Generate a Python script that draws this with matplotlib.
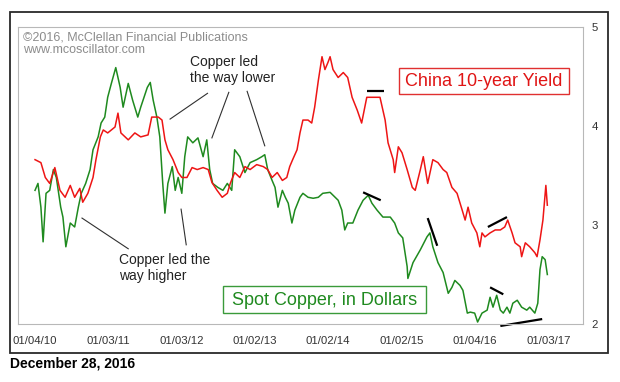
import numpy as np
import pandas as pd
import matplotlib
matplotlib.use('Agg')
import matplotlib.pyplot as plt
from matplotlib.patches import Rectangle

plt.rcParams['font.family'] = ['Liberation Sans', 'DejaVu Sans']

# China 10-year yield (decimal year)
yield_t = [2010.01, 2010.09, 2010.15, 2010.21, 2010.28, 2010.35, 2010.42, 2010.49, 2010.55, 2010.62,
           2010.66, 2010.73, 2010.80, 2010.84, 2010.90, 2010.94, 2011.00, 2011.10, 2011.14, 2011.18,
           2011.28, 2011.37, 2011.45, 2011.55, 2011.60, 2011.69, 2011.74, 2011.78, 2011.82, 2011.89,
           2011.96, 2012.01, 2012.08, 2012.15, 2012.22, 2012.30, 2012.37, 2012.42, 2012.49, 2012.56,
           2012.63, 2012.67, 2012.73, 2012.80, 2012.87, 2012.94, 2013.03, 2013.12, 2013.18, 2013.24,
           2013.31, 2013.38, 2013.44, 2013.48, 2013.52, 2013.58, 2013.62, 2013.66, 2013.73, 2013.78,
           2013.82, 2013.87, 2013.92, 2013.96, 2014.00, 2014.03, 2014.07, 2014.14, 2014.21, 2014.27,
           2014.33, 2014.40, 2014.46, 2014.53, 2014.61, 2014.71, 2014.78, 2014.82, 2014.89, 2014.91,
           2014.96, 2015.01, 2015.08, 2015.15, 2015.19, 2015.26, 2015.30, 2015.36, 2015.43, 2015.50,
           2015.57, 2015.62, 2015.69, 2015.76, 2015.83, 2015.87, 2015.91, 2015.96, 2016.03, 2016.07,
           2016.10, 2016.14, 2016.21, 2016.28, 2016.35, 2016.41, 2016.45, 2016.51, 2016.55, 2016.62,
           2016.64, 2016.69, 2016.75, 2016.82, 2016.85, 2016.89, 2016.93, 2016.97, 2016.99]
yield_v = [3.66, 3.63, 3.48, 3.42, 3.58, 3.35, 3.28, 3.40, 3.28, 3.37,
           3.23, 3.32, 3.48, 3.66, 3.89, 3.96, 3.93, 3.99, 4.13, 3.93,
           3.86, 3.93, 3.89, 3.91, 4.09, 4.09, 4.06, 3.86, 3.76, 3.66,
           3.53, 3.48, 3.48, 3.58, 3.56, 3.58, 3.56, 3.43, 3.35, 3.28,
           3.32, 3.42, 3.53, 3.48, 3.59, 3.56, 3.61, 3.59, 3.56, 3.48,
           3.53, 3.45, 3.48, 3.59, 3.66, 3.76, 3.93, 4.06, 4.06, 4.03,
           4.19, 4.46, 4.70, 4.57, 4.64, 4.70, 4.57, 4.49, 4.54, 4.49,
           4.29, 4.16, 4.03, 4.29, 4.29, 4.29, 4.06, 3.83, 3.66, 3.53,
           3.79, 3.73, 3.56, 3.38, 3.35, 3.56, 3.69, 3.42, 3.66, 3.63,
           3.56, 3.53, 3.38, 3.32, 3.15, 3.05, 3.18, 3.02, 2.92, 2.78,
           2.92, 2.88, 2.92, 2.95, 2.95, 2.98, 3.05, 2.92, 2.82, 2.78,
           2.68, 2.82, 2.78, 2.72, 2.68, 2.85, 3.05, 3.40, 3.20]

# Spot copper, dollars
copper_t = [2010.01, 2010.05, 2010.09, 2010.12, 2010.16, 2010.21, 2010.26, 2010.30, 2010.36, 2010.39,
            2010.43, 2010.49, 2010.55, 2010.60, 2010.64, 2010.70, 2010.76, 2010.80, 2010.87, 2010.91,
            2010.96, 2011.00, 2011.05, 2011.11, 2011.17, 2011.21, 2011.28, 2011.34, 2011.41, 2011.45,
            2011.54, 2011.58, 2011.62, 2011.67, 2011.71, 2011.75, 2011.78, 2011.82, 2011.88, 2011.92,
            2011.96, 2012.01, 2012.05, 2012.09, 2012.16, 2012.23, 2012.30, 2012.35, 2012.39, 2012.43,
            2012.50, 2012.57, 2012.63, 2012.69, 2012.73, 2012.80, 2012.87, 2012.94, 2013.03, 2013.10,
            2013.14, 2013.18, 2013.24, 2013.28, 2013.32, 2013.38, 2013.42, 2013.46, 2013.51, 2013.55,
            2013.62, 2013.66, 2013.73, 2013.80, 2013.87, 2013.93, 2014.03, 2014.10, 2014.14, 2014.19,
            2014.23, 2014.27, 2014.34, 2014.41, 2014.48, 2014.55, 2014.60, 2014.67, 2014.75, 2014.85,
            2014.91, 2014.96, 2015.02, 2015.08, 2015.09, 2015.16, 2015.26, 2015.35, 2015.39, 2015.43,
            2015.50, 2015.57, 2015.64, 2015.69, 2015.73, 2015.80, 2015.84, 2015.90, 2015.94, 2016.00,
            2016.04, 2016.10, 2016.17, 2016.21, 2016.25, 2016.30, 2016.35, 2016.39, 2016.44, 2016.48,
            2016.52, 2016.58, 2016.64, 2016.71, 2016.75, 2016.82, 2016.86, 2016.89, 2016.92, 2016.96,
            2016.99]
copper_v = [3.35, 3.42, 3.18, 2.83, 3.32, 3.35, 3.56, 3.48, 3.18, 3.08,
            2.78, 3.02, 2.98, 3.18, 3.32, 3.42, 3.56, 3.76, 3.89, 4.03,
            4.09, 4.29, 4.43, 4.59, 4.39, 4.19, 4.43, 4.26, 4.09, 4.19,
            4.39, 4.44, 4.26, 4.09, 3.89, 3.42, 3.12, 3.42, 3.59, 3.35,
            3.48, 3.32, 3.69, 3.89, 3.83, 3.88, 3.69, 3.86, 3.56, 3.42,
            3.38, 3.35, 3.42, 3.35, 3.76, 3.69, 3.53, 3.63, 3.66, 3.69,
            3.71, 3.56, 3.45, 3.38, 3.18, 3.35, 3.28, 3.22, 3.02, 3.15,
            3.28, 3.32, 3.28, 3.27, 3.28, 3.32, 3.33, 3.28, 3.25, 3.15,
            2.95, 3.02, 3.02, 3.15, 3.25, 3.30, 3.22, 3.15, 3.08, 3.08,
            3.02, 2.92, 2.87, 2.58, 2.46, 2.62, 2.75, 2.88, 2.92, 2.78,
            2.62, 2.52, 2.31, 2.37, 2.44, 2.39, 2.34, 2.11, 2.12, 2.11,
            2.02, 2.11, 2.14, 2.27, 2.17, 2.29, 2.14, 2.11, 2.17, 2.11,
            2.21, 2.24, 2.17, 2.14, 2.17, 2.11, 2.21, 2.55, 2.68, 2.65,
            2.50]

# black trend segments: (t0, v0, t1, v1)
trend_lines = [(2014.53, 4.35, 2014.76, 4.35),
               (2014.48, 3.33, 2014.72, 3.25),
               (2015.36, 3.07, 2015.49, 2.79),
               (2016.18, 2.98, 2016.44, 3.08),
               (2016.21, 2.37, 2016.39, 2.30),
               (2016.35, 1.98, 2016.92, 2.05)]

# thin pointer lines from the notes
pointer_lines = [(2012.36, 4.33, 2011.85, 4.07),
                 (2012.65, 4.34, 2012.42, 3.88),
                 (2012.90, 4.35, 2013.14, 3.80),
                 (2010.65, 3.07, 2011.28, 2.76),
                 (2012.00, 3.16, 2012.07, 2.80)]

tick_labels = ['01/04/10', '01/03/11', '01/03/12', '01/02/13',
               '01/02/14', '01/02/15', '01/04/16', '01/03/17']
y_ticks = [2, 3, 4, 5]


def to_date(t):
    t = np.asarray(t, dtype=float)
    return pd.Timestamp('2010-01-01') + pd.to_timedelta((t - 2010) * 365.25, unit='D')


W, H = 620, 382
fig = plt.figure(figsize=(W / 100, H / 100), dpi=100)
fig.patch.set_facecolor('white')

# outer frame
fig.patches.append(Rectangle((10 / W, 1 - 353 / H), 598 / W, 341 / H, transform=fig.transFigure,
                             fill=False, edgecolor='#2a2a2a', lw=1.3))

ax = fig.add_axes([18 / W, 1 - 324 / H, 565 / W, 297 / H])
for s in ax.spines.values():
    s.set_color('#b8b8b8')
    s.set_linewidth(0.8)

ax.plot(to_date(copper_t), copper_v, color='#1f8a1f', lw=1.1)
ax.plot(to_date(yield_t), yield_v, color='#ee1515', lw=1.1)

for t0, v0, t1, v1 in trend_lines:
    ax.plot(to_date([t0, t1]), [v0, v1], color='black', lw=1.6, clip_on=False, solid_capstyle='butt')
for t0, v0, t1, v1 in pointer_lines:
    ax.plot(to_date([t0, t1]), [v0, v1], color='#303030', lw=0.8)

ax.set_xlim(to_date([2009.778, 2017.476]))
ax.set_ylim(2, 5)
ax.set_xticks(pd.to_datetime(tick_labels, format='%m/%d/%y'))
ax.set_xticklabels(tick_labels)
ax.set_yticks(y_ticks)
ax.yaxis.tick_right()
ax.tick_params(axis='both', length=0, labelsize=8.2, colors='#333333')
ax.tick_params(axis='x', pad=9)
ax.tick_params(axis='y', pad=6)

# watermark
ax.text(0.009, 0.985, '©2016, McClellan Financial Publications\nwww.mcoscillator.com',
        transform=ax.transAxes, ha='left', va='top', fontsize=9, color='#8c8c8c', linespacing=1.05)

# notes
ax.text(to_date(2012.12), 4.72, 'Copper led\nthe way lower', ha='left', va='top', fontsize=10,
        color='#222222', linespacing=1.25)
ax.text(to_date(2011.15), 2.72, 'Copper led the\nway higher', ha='left', va='top', fontsize=10,
        color='#222222', linespacing=1.25)

# series labels in boxes
ax.add_patch(Rectangle((0.674, 0.774), 0.301, 0.088, transform=ax.transAxes,
                       facecolor='white', edgecolor='#e03030', lw=1.0))
ax.text(0.8245, 0.816, 'China 10-year Yield', transform=ax.transAxes, ha='center', va='center',
        fontsize=13, color='#e01515')
ax.add_patch(Rectangle((0.363, 0.037), 0.359, 0.091, transform=ax.transAxes,
                       facecolor='white', edgecolor='#3a9a3a', lw=1.0))
ax.text(0.5425, 0.080, 'Spot Copper, in Dollars', transform=ax.transAxes, ha='center', va='center',
        fontsize=13, color='#1f8a1f')

fig.text(10 / W, 1 - 364 / H, 'December 28, 2016', ha='left', va='center', fontsize=10,
         fontweight='bold', color='black')

fig.savefig('out.png', dpi=100)
